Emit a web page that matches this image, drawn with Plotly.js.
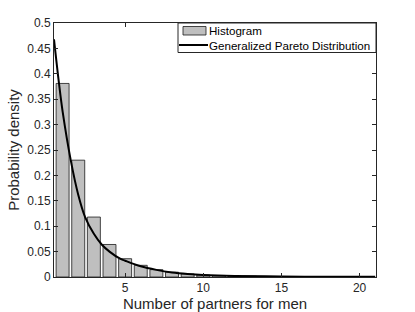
<!DOCTYPE html>
<html>
<head>
<meta charset="utf-8">
<script src="https://cdn.plot.ly/plotly-3.0.1.min.js"></script>
<style>html,body{margin:0;padding:0;background:#fff;}#chart{width:415px;height:312px;}</style>
</head>
<body>
<div id="chart"></div>
<script>
// Histogram bins (number of partners) and densities
const binCenters = [1,2,3,4,5,6,7,8,9,10,11,12,13,14,15,16,17,18,19,20];
const densities  = [0.381,0.230,0.118,0.064,0.036,0.023,0.0145,0.0095,0.006,0.004,0.003,0.002,0.0015,0.001,0.0008,0.0006,0.0005,0.0004,0.0003,0.0002];

// Fitted Generalized Pareto curve
const curveX = [0.45,0.77,1.0,1.52,2.0,2.44,3.0,3.5,4.0,4.68,5,6,7,8,9,10,12,15,18,21];
const curveY = [0.468,0.381,0.326,0.230,0.162,0.118,0.085,0.064,0.050,0.036,0.032,0.021,0.014,0.009,0.006,0.004,0.002,0.001,0.0005,0.0003];

const yTicks = [0,0.05,0.1,0.15,0.2,0.25,0.3,0.35,0.4,0.45,0.5];
const yTickText = ['0','0.05','0.1','0.15','0.2','0.25','0.3','0.35','0.4','0.45','0.5'];
const xTicks = [5,10,15,20];
const legendLabels = ['Histogram','Generalized Pareto Distribution'];

const font = 'Liberation Sans, Arial, Helvetica, sans-serif';
const axisCol = '#262626';
const W = 415, H = 312, L = 54, R = 39, T = 23, B = 35;
const pw = W - L - R, ph = H - T - B;
const px = x => (x - L) / pw;          // page pixel -> paper x
const py = y => (H - B - y) / ph;      // page pixel -> paper y

const traces = [
  {type:'bar', x:binCenters, y:densities, name:legendLabels[0],
   marker:{color:'#bfbfbf', line:{color:'#1a1a1a', width:0.8}}},
  {type:'scatter', mode:'lines', x:curveX, y:curveY, name:legendLabels[1],
   line:{color:'#000', width:2, shape:'spline', smoothing:1}}
];

const shapes = [
  {type:'rect', xref:'paper', yref:'paper', x0:px(178), x1:px(376), y0:py(52.5), y1:py(23),
   line:{color:axisCol, width:1}, fillcolor:'#fff', layer:'above'},
  {type:'rect', xref:'paper', yref:'paper', x0:px(183), x1:px(206), y0:py(35), y1:py(26.5),
   line:{color:'#1a1a1a', width:0.8}, fillcolor:'#bfbfbf', layer:'above'},
  {type:'line', xref:'paper', yref:'paper', x0:px(179), x1:px(208), y0:py(45), y1:py(45),
   line:{color:'#000', width:2}, layer:'above'}
];
const annotations = [
  {xref:'paper', yref:'paper', x:px(207.5), y:py(37.8), xanchor:'left', yanchor:'middle', align:'left',
   showarrow:false, borderpad:0,
   text:legendLabels[0] + '<br>' + legendLabels[1], font:{family:font, size:11.6, color:'#000'}}
];

const layout = {
  width:W, height:H,
  margin:{l:L, r:R, t:T, b:B, pad:0},
  paper_bgcolor:'#fff', plot_bgcolor:'#fff',
  bargap:0.17,
  showlegend:false,
  font:{family:font, size:12, color:axisCol},
  shapes:shapes, annotations:annotations,
  xaxis:{range:[0.45,21.05], tickvals:xTicks, ticks:'inside', ticklen:4, tickcolor:axisCol,
         showline:true, linecolor:axisCol, linewidth:1, mirror:'ticks', showgrid:false, zeroline:false,
         tickfont:{family:font, size:12, color:axisCol},
         title:{text:'Number of partners for men', font:{family:font, size:15, color:axisCol}, standoff:6}},
  yaxis:{range:[0,0.5], tickvals:yTicks, ticktext:yTickText, ticks:'inside', ticklen:4, tickcolor:axisCol,
         showline:true, linecolor:axisCol, linewidth:1, mirror:'ticks', showgrid:false, zeroline:false,
         tickfont:{family:font, size:12, color:axisCol},
         title:{text:'Probability density', font:{family:font, size:15, color:axisCol}, standoff:3}}
};

Plotly.newPlot('chart', traces, layout, {displayModeBar:false, staticPlot:true});
</script>
</body>
</html>
